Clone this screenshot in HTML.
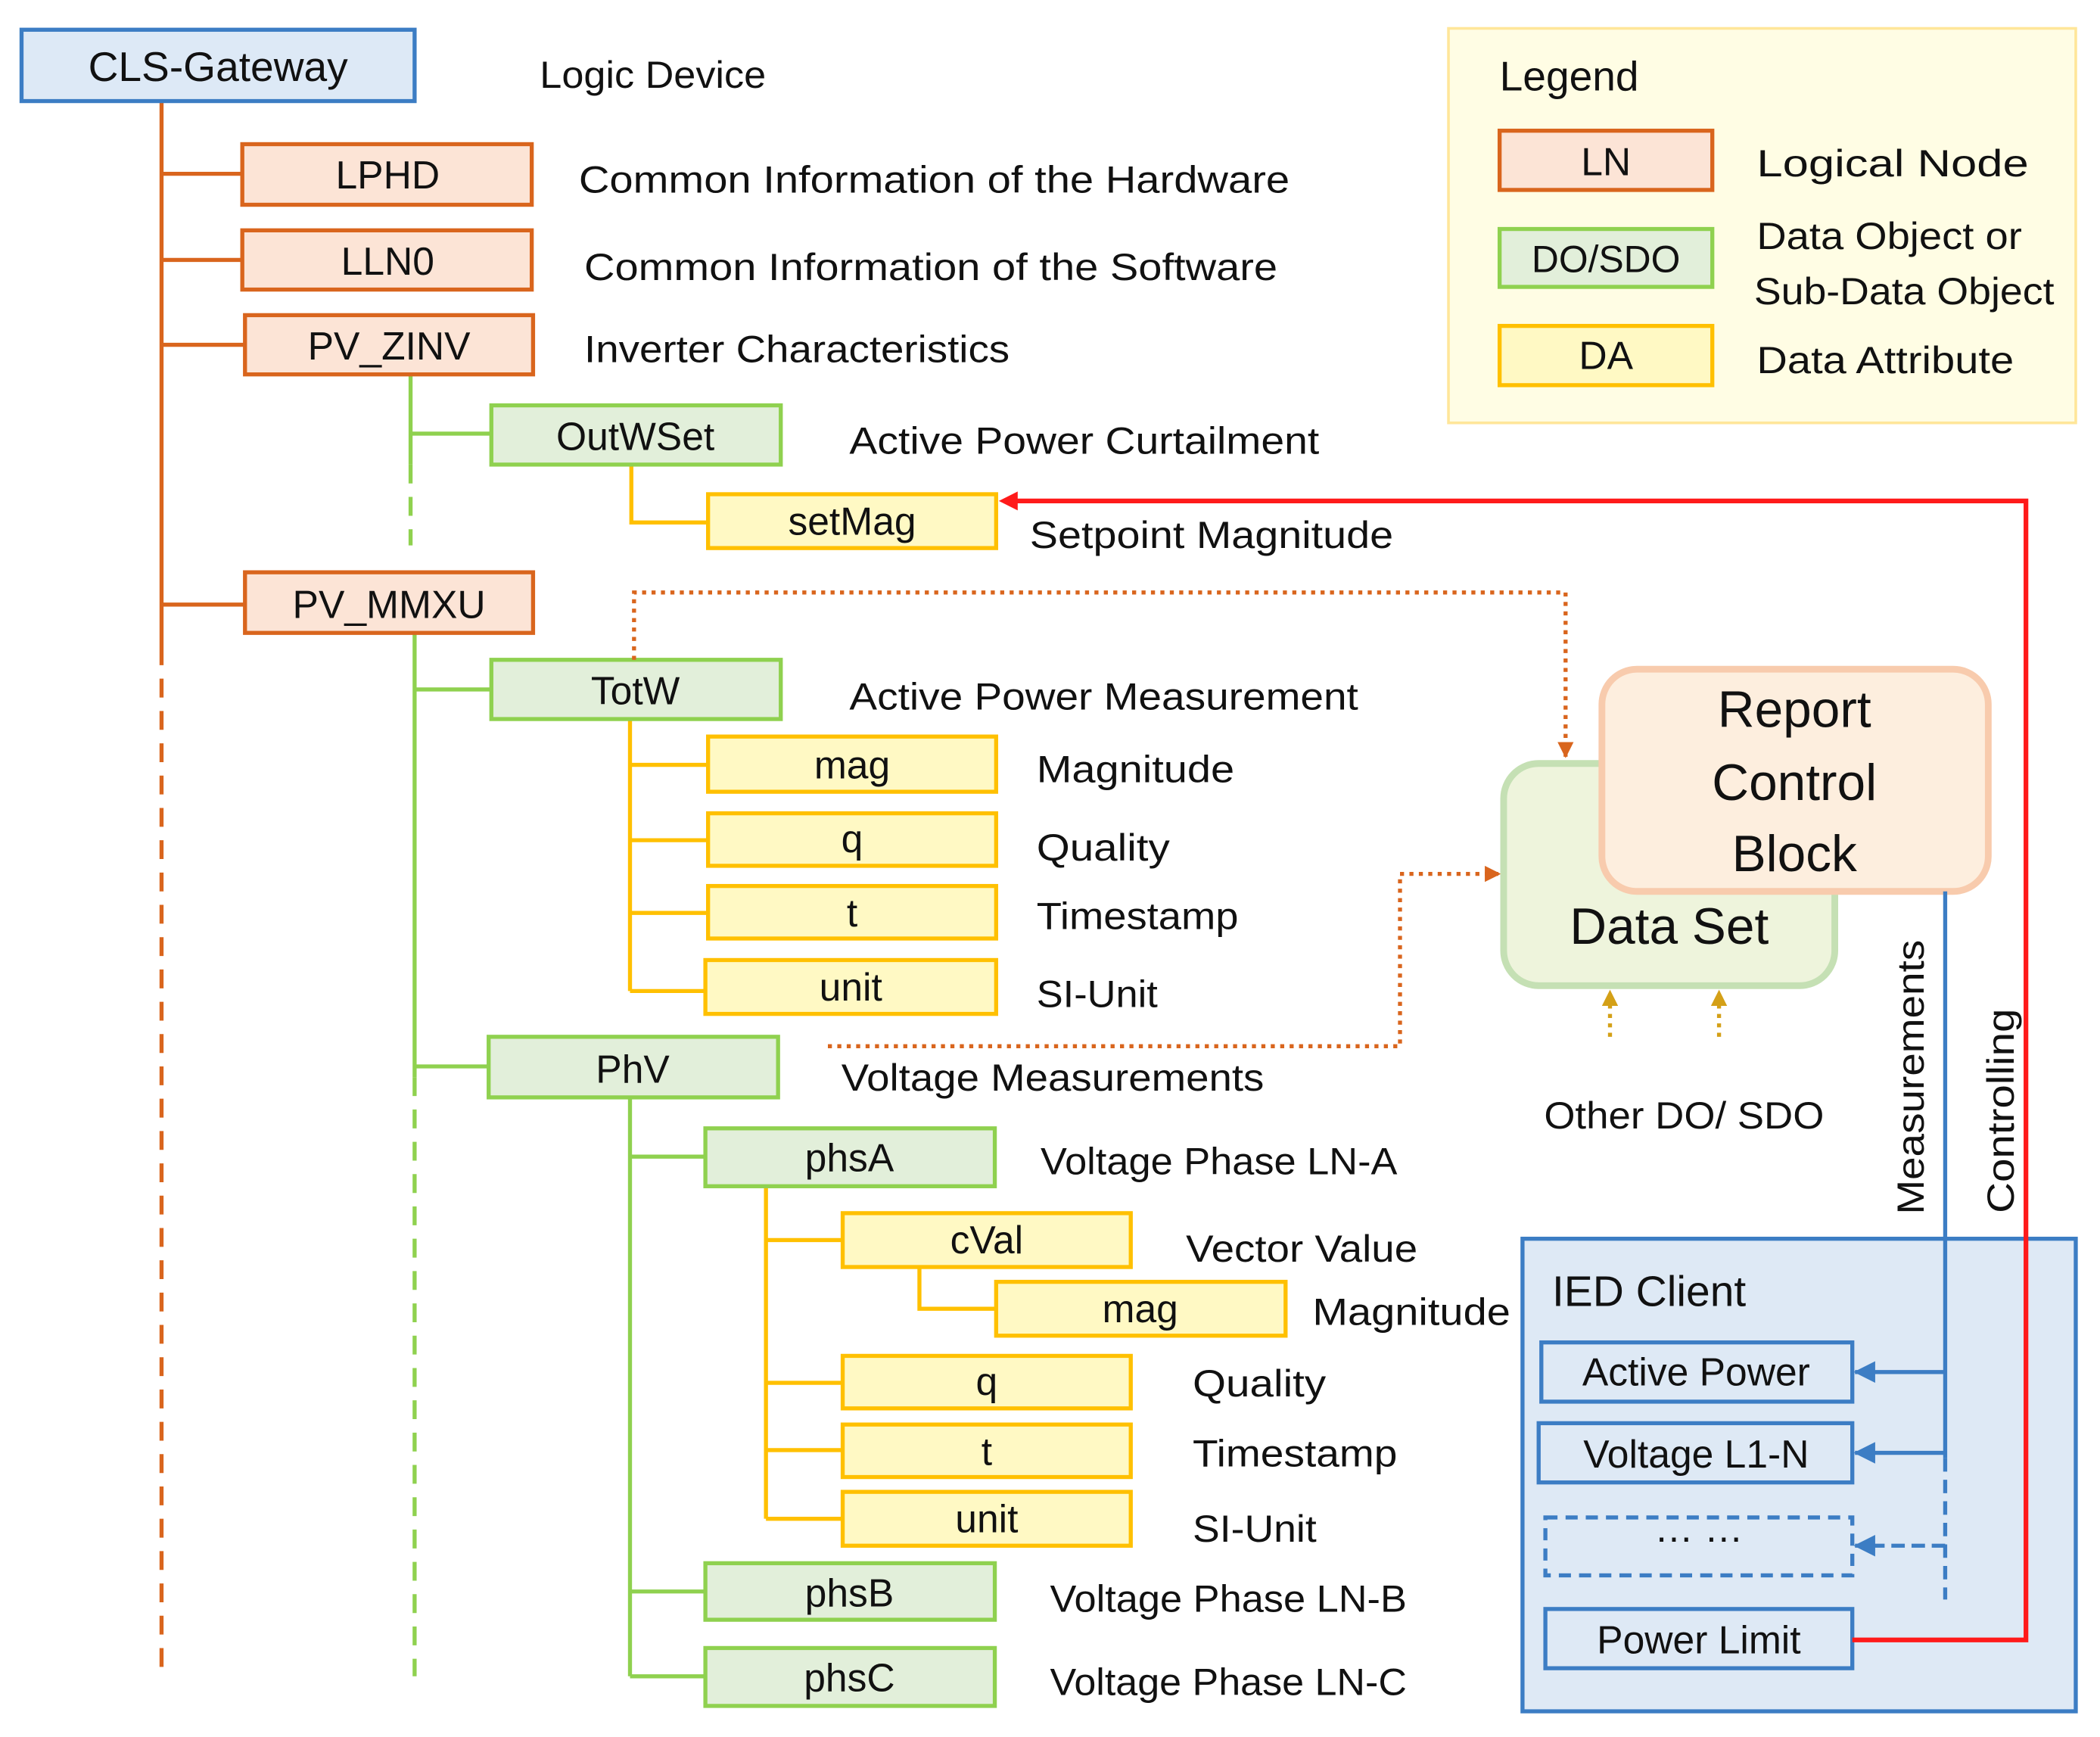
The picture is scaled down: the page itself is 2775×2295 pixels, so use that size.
<!DOCTYPE html>
<html><head><meta charset="utf-8"><style>
html,body{margin:0;padding:0;background:#fff}
svg{display:block}
text{font-family:"Liberation Sans",sans-serif;fill:#111}
</style></head><body>
<svg width="2775" height="2295" viewBox="0 0 1560 1290" xmlns="http://www.w3.org/2000/svg">
<defs>
<marker id="ar" markerWidth="8" markerHeight="8" refX="7" refY="4" orient="auto" markerUnits="userSpaceOnUse"><path d="M0,0 L8,4 L0,8z" fill="#ff1a1a"/></marker>
<marker id="ao" markerWidth="12" markerHeight="12" refX="11" refY="6" orient="auto" markerUnits="userSpaceOnUse"><path d="M0,0 L12,6 L0,12z" fill="#d9651d"/></marker>
<marker id="ag" markerWidth="12" markerHeight="12" refX="11" refY="6" orient="auto" markerUnits="userSpaceOnUse"><path d="M0,0 L12,6 L0,12z" fill="#d4a017"/></marker>
<marker id="ab" markerWidth="16" markerHeight="16" refX="15" refY="8" orient="auto" markerUnits="userSpaceOnUse"><path d="M0,0 L16,8 L0,16z" fill="#3c7dc4"/></marker>
</defs>

<rect x="1076" y="21" width="466" height="293" fill="#fffde4" stroke="#ffe699" stroke-width="2"/>
<text x="1114" y="67" font-size="31">Legend</text>
<rect x="1114" y="97" width="158" height="44" fill="#fce4d6" stroke="#d9651d" stroke-width="3"/>
<text x="1193" y="130" font-size="29" text-anchor="middle">LN</text>
<rect x="1114" y="170" width="158" height="43" fill="#e2efda" stroke="#8fd14f" stroke-width="3"/>
<text x="1193" y="202" font-size="28" text-anchor="middle">DO/SDO</text>
<rect x="1114" y="242" width="158" height="44" fill="#fff9c4" stroke="#ffc000" stroke-width="3"/>
<text x="1193" y="274" font-size="29" text-anchor="middle">DA</text>
<text x="1305" y="131" font-size="28" textLength="202" lengthAdjust="spacingAndGlyphs">Logical Node</text>
<text x="1305" y="185" font-size="28" textLength="197" lengthAdjust="spacingAndGlyphs">Data Object or</text>
<text x="1303" y="226" font-size="28" textLength="223" lengthAdjust="spacingAndGlyphs">Sub-Data Object</text>
<text x="1305" y="277" font-size="28" textLength="191" lengthAdjust="spacingAndGlyphs">Data Attribute</text>

<g stroke="#d9651d" stroke-width="3" fill="none">
<line x1="120" y1="75" x2="120" y2="480"/>
<line x1="120" y1="480" x2="120" y2="1245" stroke-dasharray="14,10"/>
<line x1="120" y1="129" x2="180" y2="129"/>
<line x1="120" y1="193" x2="180" y2="193"/>
<line x1="120" y1="256" x2="182" y2="256"/>
<line x1="120" y1="449" x2="182" y2="449"/>
</g>

<g stroke="#8fd14f" stroke-width="3" fill="none">
<line x1="305" y1="278" x2="305" y2="345"/>
<line x1="305" y1="345" x2="305" y2="405" stroke-dasharray="14,10"/>
<line x1="305" y1="322" x2="365" y2="322"/>
<line x1="308" y1="470" x2="308" y2="800"/>
<line x1="308" y1="800" x2="308" y2="1245" stroke-dasharray="14,10"/>
<line x1="308" y1="512" x2="365" y2="512"/>
<line x1="308" y1="792" x2="363" y2="792"/>
<line x1="468" y1="815" x2="468" y2="1245"/>
<line x1="468" y1="859" x2="524" y2="859"/>
<line x1="468" y1="1182" x2="524" y2="1182"/>
<line x1="468" y1="1245" x2="524" y2="1245"/>
</g>

<g stroke="#ffc000" stroke-width="3" fill="none">
<polyline points="469,345 469,388 526,388"/>
<line x1="468" y1="534" x2="468" y2="736"/>
<line x1="468" y1="568" x2="526" y2="568"/>
<line x1="468" y1="624" x2="526" y2="624"/>
<line x1="468" y1="678" x2="526" y2="678"/>
<line x1="468" y1="736" x2="524" y2="736"/>
<line x1="569" y1="881" x2="569" y2="1128"/>
<line x1="569" y1="921" x2="626" y2="921"/>
<line x1="569" y1="1027" x2="626" y2="1027"/>
<line x1="569" y1="1077" x2="626" y2="1077"/>
<line x1="569" y1="1128" x2="626" y2="1128"/>
<polyline points="683,941 683,972 740,972"/>
</g>

<rect x="16" y="22" width="292" height="53" fill="#dde9f6" stroke="#3c7dc4" stroke-width="3"/>
<text x="162" y="60" font-size="31" text-anchor="middle">CLS-Gateway</text>
<text x="401" y="65" font-size="28" textLength="168" lengthAdjust="spacingAndGlyphs">Logic Device</text>

<g fill="#fce4d6" stroke="#d9651d" stroke-width="3">
<rect x="180" y="107" width="215" height="45"/>
<rect x="180" y="171" width="215" height="44"/>
<rect x="182" y="234" width="214" height="44"/>
<rect x="182" y="425" width="214" height="45"/>
</g>
<g font-size="29" text-anchor="middle">
<text x="288" y="140">LPHD</text>
<text x="288" y="204">LLN0</text>
<text x="289" y="267">PV_ZINV</text>
<text x="289" y="459">PV_MMXU</text>
</g>

<g fill="#e2efda" stroke="#8fd14f" stroke-width="3">
<rect x="365" y="301" width="215" height="44"/>
<rect x="365" y="490" width="215" height="44"/>
<rect x="363" y="770" width="215" height="45"/>
<rect x="524" y="838" width="215" height="43"/>
<rect x="524" y="1161" width="215" height="42"/>
<rect x="524" y="1224" width="215" height="43"/>
</g>
<g font-size="29" text-anchor="middle">
<text x="472" y="334">OutWSet</text>
<text x="472" y="523">TotW</text>
<text x="470" y="804">PhV</text>
<text x="631" y="870">phsA</text>
<text x="631" y="1193">phsB</text>
<text x="631" y="1256">phsC</text>
</g>

<g fill="#fff9c4" stroke="#ffc000" stroke-width="3">
<rect x="526" y="367" width="214" height="40"/>
<rect x="526" y="547" width="214" height="41"/>
<rect x="526" y="604" width="214" height="39"/>
<rect x="526" y="658" width="214" height="39"/>
<rect x="524" y="713" width="216" height="40"/>
<rect x="626" y="901" width="214" height="40"/>
<rect x="740" y="952" width="215" height="40"/>
<rect x="626" y="1007" width="214" height="39"/>
<rect x="626" y="1058" width="214" height="39"/>
<rect x="626" y="1108" width="214" height="40"/>
</g>
<g font-size="29" text-anchor="middle">
<text x="633" y="397">setMag</text>
<text x="633" y="578">mag</text>
<text x="633" y="633">q</text>
<text x="633" y="688">t</text>
<text x="632" y="743">unit</text>
<text x="733" y="931">cVal</text>
<text x="847" y="982">mag</text>
<text x="733" y="1036">q</text>
<text x="733" y="1088">t</text>
<text x="733" y="1138">unit</text>
</g>

<g font-size="28">
<text x="430" y="143" textLength="528" lengthAdjust="spacingAndGlyphs">Common Information of the Hardware</text>
<text x="434" y="208" textLength="515" lengthAdjust="spacingAndGlyphs">Common Information of the Software</text>
<text x="434" y="269" textLength="316" lengthAdjust="spacingAndGlyphs">Inverter Characteristics</text>
<text x="631" y="337" textLength="349" lengthAdjust="spacingAndGlyphs">Active Power Curtailment</text>
<text x="765" y="407" textLength="270" lengthAdjust="spacingAndGlyphs">Setpoint Magnitude</text>
<text x="631" y="527" textLength="378" lengthAdjust="spacingAndGlyphs">Active Power Measurement</text>
<text x="770" y="581" textLength="147" lengthAdjust="spacingAndGlyphs">Magnitude</text>
<text x="770" y="639" textLength="99" lengthAdjust="spacingAndGlyphs">Quality</text>
<text x="770" y="690" textLength="150" lengthAdjust="spacingAndGlyphs">Timestamp</text>
<text x="770" y="748" textLength="90" lengthAdjust="spacingAndGlyphs">SI-Unit</text>
<text x="625" y="810" textLength="314" lengthAdjust="spacingAndGlyphs">Voltage Measurements</text>
<text x="773" y="872" textLength="265" lengthAdjust="spacingAndGlyphs">Voltage Phase LN-A</text>
<text x="881" y="937" textLength="172" lengthAdjust="spacingAndGlyphs">Vector Value</text>
<text x="975" y="984" textLength="147" lengthAdjust="spacingAndGlyphs">Magnitude</text>
<text x="886" y="1037" textLength="99" lengthAdjust="spacingAndGlyphs">Quality</text>
<text x="886" y="1089" textLength="152" lengthAdjust="spacingAndGlyphs">Timestamp</text>
<text x="886" y="1145" textLength="92" lengthAdjust="spacingAndGlyphs">SI-Unit</text>
<text x="780" y="1197" textLength="265" lengthAdjust="spacingAndGlyphs">Voltage Phase LN-B</text>
<text x="780" y="1259" textLength="265" lengthAdjust="spacingAndGlyphs">Voltage Phase LN-C</text>
<text x="1147" y="838" textLength="208" lengthAdjust="spacingAndGlyphs">Other DO/ SDO</text>
</g>

<g stroke="#d9651d" stroke-width="3" fill="none" stroke-dasharray="3,4">
<polyline points="471,490 471,440 1163,440 1163,562" marker-end="url(#ao)"/>
<polyline points="615,777 1040,777 1040,649 1114,649" marker-end="url(#ao)"/>
</g>
<g stroke="#d4a017" stroke-width="3" fill="none" stroke-dasharray="3,4">
<line x1="1196" y1="770" x2="1196" y2="736" marker-end="url(#ag)"/>
<line x1="1277" y1="770" x2="1277" y2="736" marker-end="url(#ag)"/>
</g>

<rect x="1117" y="567" width="246" height="165" rx="26" fill="#eef4dc" stroke="#c5e0b4" stroke-width="5"/>
<text x="1240" y="701" font-size="38" text-anchor="middle">Data Set</text>
<rect x="1190" y="497" width="287" height="165" rx="26" fill="#fdeede" stroke="#f8cbad" stroke-width="5"/>
<g font-size="38" text-anchor="middle">
<text x="1333" y="540">Report</text>
<text x="1333" y="594">Control</text>
<text x="1333" y="647">Block</text>
</g>

<rect x="1131" y="920" width="411" height="351" fill="#dee9f5" stroke="#3c7dc4" stroke-width="3"/>
<text x="1153" y="970" font-size="32">IED Client</text>
<g fill="none" stroke="#3c7dc4" stroke-width="3">
<rect x="1145" y="997" width="231" height="44"/>
<rect x="1143" y="1057" width="233" height="44"/>
<rect x="1148" y="1127" width="228" height="43" stroke-dasharray="9,6"/>
<rect x="1148" y="1195" width="228" height="44"/>
</g>
<g font-size="29" text-anchor="middle">
<text x="1260" y="1029">Active Power</text>
<text x="1260" y="1090">Voltage L1-N</text>
<text x="1262" y="1145">… …</text>
<text x="1262" y="1228">Power Limit</text>
</g>

<g stroke="#3c7dc4" stroke-width="3" fill="none">
<line x1="1445" y1="662" x2="1445" y2="1083"/>
<line x1="1445" y1="1083" x2="1445" y2="1188" stroke-dasharray="10,6"/>
<line x1="1445" y1="1019" x2="1378" y2="1019" marker-end="url(#ab)"/>
<line x1="1445" y1="1079" x2="1378" y2="1079" marker-end="url(#ab)"/>
<line x1="1445" y1="1148" x2="1378" y2="1148" stroke-dasharray="10,5" marker-end="url(#ab)"/>
</g>

<polyline points="1376,1218 1505,1218 1505,372 746,372" fill="none" stroke="#ff1a1a" stroke-width="3.5" marker-end="url(#ar)"/>
<path d="M742,372 L756,365 L756,379z" fill="#ff1a1a"/>

<text transform="translate(1429,800) rotate(-90)" font-size="28" text-anchor="middle" textLength="204" lengthAdjust="spacingAndGlyphs">Measurements</text>
<text transform="translate(1496,825) rotate(-90)" font-size="28" text-anchor="middle" textLength="152" lengthAdjust="spacingAndGlyphs">Controlling</text>
</svg>
</body></html>
